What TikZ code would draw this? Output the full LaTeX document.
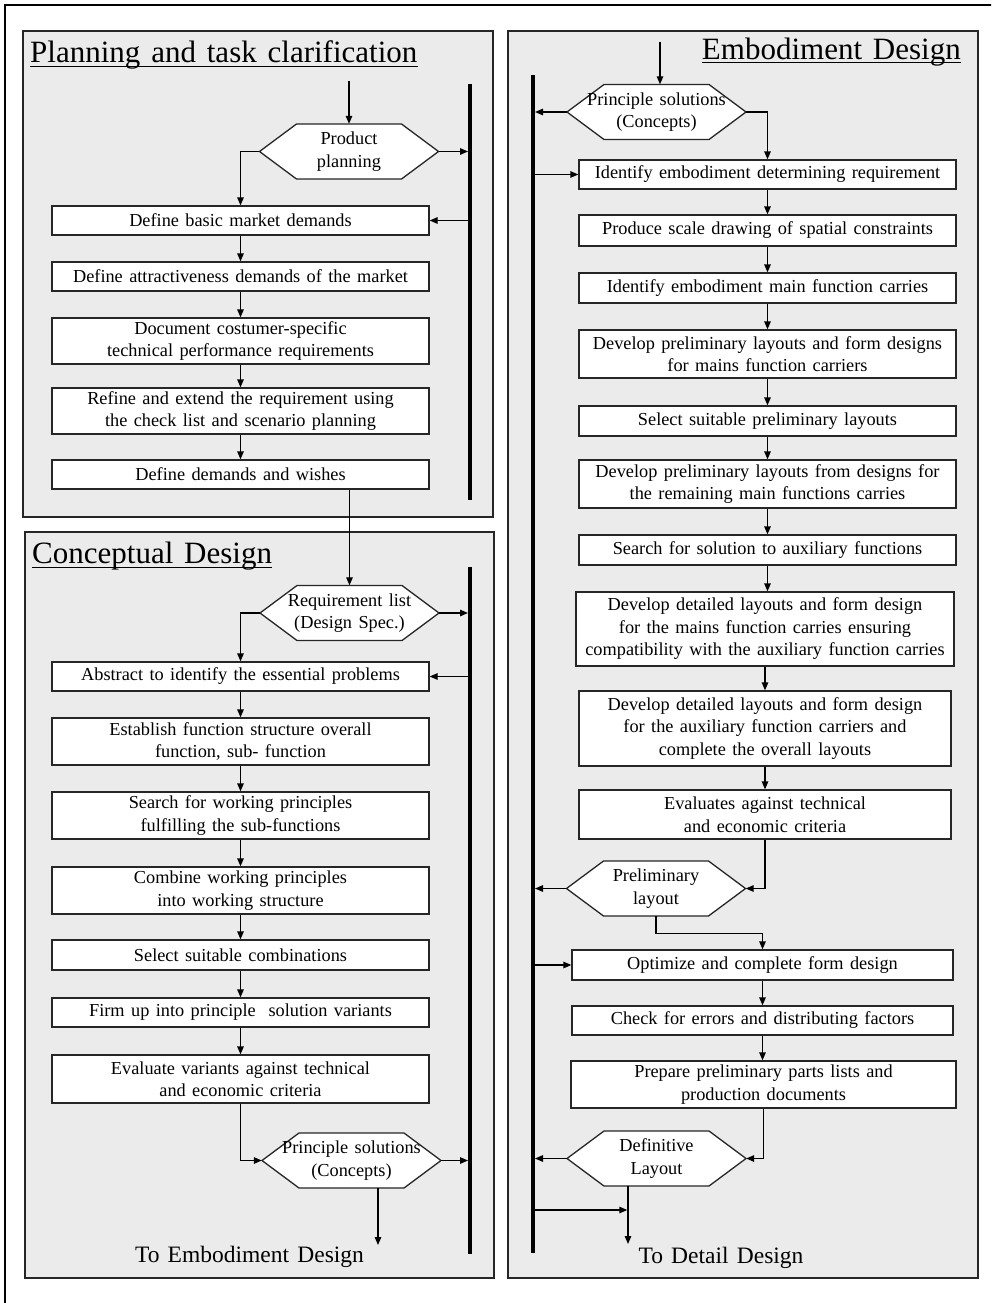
\documentclass[tikz,border=0pt]{standalone}
\usepackage{fontspec}
\setmainfont{Liberation Serif}[WordSpace=1.4]
\usetikzlibrary{arrows.meta}
\def\hexagon(#1,#2){\draw[hexline] (#1-89.5,#2) -- (#1-52.5,#2-27.5) -- (#1+52.5,#2-27.5) -- (#1+89.5,#2) -- (#1+52.5,#2+27.5) -- (#1-52.5,#2+27.5) -- cycle;}

\tikzset{
	panel/.style={draw=black!85, line width=1.5pt, fill=black!8},
	stepbox/.style={draw=black!85, line width=1.3pt, fill=white, align=center, inner sep=1pt, minimum width=377pt, minimum height=29pt, font=\fontsize{18.3}{22.5}\selectfont},
	hexline/.style={draw=black!85, line width=1.3pt, fill=white, line join=miter},
	decide/.style={align=center, inner sep=0pt, minimum width=179pt, minimum height=55pt, font=\fontsize{18.3}{22.5}\selectfont},
	flow/.style={line width=1.3pt, -{Triangle[length=8pt,width=6.5pt]}},
	railbar/.style={line width=4pt},
	heading/.style={inner sep=0pt, font=\fontsize{31}{36}\selectfont},
	closing/.style={inner sep=0pt, anchor=base, font=\fontsize{23.5}{28}\selectfont},
}

\begin{document}
\begin{tikzpicture}[x=1pt, y=-1pt]
			%%%%% START %%%%%
			
			\clip (0,0) rectangle (991,1303);
			\fill[white] (0,0) rectangle (991,1303);
			\draw[line width=2pt] (4.5,1320) -- (4.5,5.5) -- (1010,5.5);
			
			\draw[panel] (23,31) rectangle (493,517);
			\draw[panel] (25,532) rectangle (494,1278);
			\draw[panel] (508,31) rectangle (978,1278);
			
			\node[heading, anchor=base west] (ttlplan) at (30,63) {Planning and task clarification};
			\draw[line width=1pt] ([yshift=-4pt]ttlplan.base west) -- ([yshift=-4pt]ttlplan.base east);
			\node[heading, anchor=base west] (ttlconc) at (32,563) {Conceptual Design};
			\draw[line width=1pt] ([yshift=-4pt]ttlconc.base west) -- ([yshift=-4pt]ttlconc.base east);
			\node[heading, anchor=base east] (ttlemb) at (961,60) {Embodiment Design};
			\draw[line width=1pt] ([yshift=-3pt]ttlemb.base west) -- ([yshift=-3pt]ttlemb.base east);
			
			\coordinate (barA) at (470,84);
			\coordinate (barB) at (470,567);
			\coordinate (barE) at (533,75);
			\draw[railbar] (barA) -- (470,500);
			\draw[railbar] (barB) -- (470,1254);
			\draw[railbar] (barE) -- (533,1253);
			
			\hexagon(349,151.5)
			\hexagon(349.5,613)
			\hexagon(351.5,1160.5)
			\hexagon(656.5,112)
			\hexagon(656,888.5)
			\hexagon(656.5,1158.5)
			
			% planning and task clarification
			\node[decide] (hexP) at (349,151.5) {Product\\planning};
			\node[stepbox] (B1) at (240.5,220.5) {Define basic market demands};
			\node[stepbox] (B2) at (240.5,276.5) {Define attractiveness demands of the market};
			\node[stepbox, minimum height=46pt] (B3) at (240.5,341) {Document costumer-specific\\technical performance requirements};
			\node[stepbox, minimum height=46pt] (B4) at (240.5,411) {Refine and extend the requirement using\\the check list and scenario planning};
			\node[stepbox] (B5) at (240.5,474.5) {Define demands and wishes};
			
			\coordinate (inP) at (349,81);
			\draw[flow] (inP) -- (hexP.north);
			\draw[flow, shorten >=2pt] (hexP.east) -- (hexP.east -| barA);
			\draw[flow] (hexP.west) -| (B1.north);
			\draw[flow] (B1.east -| barA) -- (B1.east);
			\draw[flow] (B1) -- (B2);
			\draw[flow] (B2) -- (B3);
			\draw[flow] (B3) -- (B4);
			\draw[flow] (B4) -- (B5);
			
			% conceptual design
			\node[decide] (hexR) at (349.5,613) {Requirement list\\(Design Spec.)};
			\node[stepbox] (C1) at (240.5,676.5) {Abstract to identify the essential problems};
			\node[stepbox, minimum height=47pt] (C2) at (240.5,741.5) {Establish function structure overall\\function, sub- function};
			\node[stepbox, minimum height=47pt] (C3) at (240.5,815.5) {Search for working principles\\fulfilling the sub-functions};
			\node[stepbox, minimum height=47pt] (C4) at (240.5,890.5) {Combine working principles\\into working structure};
			\node[stepbox, minimum height=30pt] (C5) at (240.5,955) {Select suitable combinations};
			\node[stepbox] (C6) at (240.5,1012.5) {Firm up into principle\ \ solution variants};
			\node[stepbox, minimum height=48pt] (C7) at (240.5,1079) {Evaluate variants against technical\\and economic criteria};
			\node[decide] (hexC) at (351.5,1160.5) {Principle solutions\\(Concepts)};
			\node[closing] (toEmb) at (249.5,1262) {To Embodiment Design};
			
			\draw[flow] (B5.south -| hexR.north) -- (hexR.north);
			\draw[flow, shorten >=2pt] (hexR.east) -- (hexR.east -| barB);
			\draw[flow] (hexR.west) -| (C1.north);
			\draw[flow] (C1.east -| barB) -- (C1.east);
			\draw[flow] (C1) -- (C2);
			\draw[flow] (C2) -- (C3);
			\draw[flow] (C3) -- (C4);
			\draw[flow] (C4) -- (C5);
			\draw[flow] (C5) -- (C6);
			\draw[flow] (C6) -- (C7);
			\draw[flow] (C7.south) |- (hexC.west);
			\draw[flow, shorten >=2pt] (hexC.east) -- (hexC.east -| barB);
			\coordinate (outC) at (378,1245);
			\draw[flow] (hexC.south -| outC) -- (outC);
			
			% embodiment design
			\node[decide] (hexE0) at (656.5,112) {Principle solutions\\(Concepts)};
			\node[stepbox] (E1) at (767.5,174.5) {Identify embodiment determining requirement};
			\node[stepbox, minimum height=31pt] (E2) at (767.5,230.5) {Produce scale drawing of spatial constraints};
			\node[stepbox, minimum height=30pt] (E3) at (767.5,288) {Identify embodiment main function carries};
			\node[stepbox, minimum height=48pt] (E4) at (767.5,354) {Develop preliminary layouts and form designs\\for mains function carriers};
			\node[stepbox, minimum height=30pt] (E5) at (767.5,421) {Select suitable preliminary layouts};
			\node[stepbox, minimum height=48pt] (E6) at (767.5,484) {Develop preliminary layouts from designs for\\the remaining main functions carries};
			\node[stepbox, minimum height=30pt] (E7) at (767.5,550) {Search for solution to auxiliary functions};
			\node[stepbox, minimum width=378pt, minimum height=74pt] (E8) at (765,629) {Develop detailed layouts and form design\\for the mains function carries ensuring\\compatibility with the auxiliary function carries};
			\node[stepbox, minimum width=372pt, minimum height=75pt] (E9) at (765,728.5) {Develop detailed layouts and form design\\for the auxiliary function carriers and\\complete the overall layouts};
			\node[stepbox, minimum width=372pt, minimum height=49pt] (E10) at (765,814.5) {Evaluates against technical\\and economic criteria};
			\node[decide] (hexPL) at (656,888.5) {Preliminary\\layout};
			\node[stepbox, minimum width=381pt, minimum height=30pt] (E11) at (762.5,965) {Optimize and complete form design};
			\node[stepbox, minimum width=381pt] (E12) at (762.5,1020.5) {Check for errors and distributing factors};
			\node[stepbox, minimum width=385pt, minimum height=47pt] (E13) at (763.5,1084.5) {Prepare preliminary parts lists and\\production documents};
			\node[decide] (hexDL) at (656.5,1158.5) {Definitive\\Layout};
			\node[closing] (toDet) at (721,1263) {To Detail Design};
			
			\coordinate (inE) at (660,42);
			\draw[flow] (inE) -- (inE |- hexE0.north);
			\draw[flow, shorten >=2pt] (hexE0.west) -- (hexE0.west -| barE);
			\draw[flow] (hexE0.east) -| (E1.north);
			\draw[flow] (E1.west -| barE) -- (E1.west);
			\draw[flow] (E1) -- (E2);
			\draw[flow] (E2) -- (E3);
			\draw[flow] (E3) -- (E4);
			\draw[flow] (E4) -- (E5);
			\draw[flow] (E5) -- (E6);
			\draw[flow] (E6) -- (E7);
			\draw[flow] (E7) -- (E7 |- E8.north);
			\draw[flow] (E8) -- (E9);
			\draw[flow] (E9) -- (E10);
			\draw[flow] (E10.south) |- (hexPL.east);
			\draw[flow, shorten >=2pt] (hexPL.west) -- (hexPL.west -| barE);
			\draw[flow] (hexPL.south) -- ++(0,17) -| (E11.north);
			\draw[flow] (E11.west -| barE) -- (E11.west);
			\draw[flow] (E11) -- (E12);
			\draw[flow] (E12) -- (E12 |- E13.north);
			\draw[flow] (E13.south) |- (hexDL.east);
			\draw[flow, shorten >=2pt] (hexDL.west) -- (hexDL.west -| barE);
			\coordinate (outE) at (628,1244);
			\draw[flow] (hexDL.south -| outE) -- (outE);
			\coordinate (tapE) at (533,1210);
			\draw[flow, shorten >=0.7pt] (tapE) -- (tapE -| outE);
			
			%%%%% END %%%%%
\end{tikzpicture}
\end{document}
